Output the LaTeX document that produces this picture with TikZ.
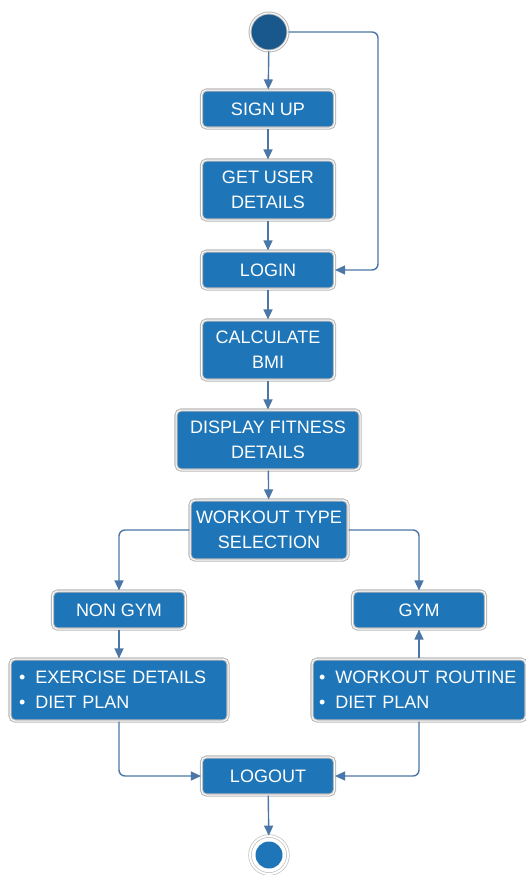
\documentclass[tikz,border=0pt]{standalone}
\usepackage{fontspec}
\setmainfont{Liberation Sans}
\usetikzlibrary{arrows.meta}

\definecolor{boxblue}{RGB}{30,117,183}
\definecolor{lineblue}{RGB}{74,118,168}
\definecolor{startblue}{RGB}{24,88,140}

\tikzset{
  state/.style={draw=gray!55, line width=1.1pt, double=white, double distance=1pt,
    fill=boxblue, rounded corners=5pt, text=white, inner sep=0pt,
    font=\fontsize{18}{25}\selectfont, align=center},
  smallstate/.style={state, minimum width=133pt, minimum height=38pt},
  bigstate/.style={state, minimum height=60pt},
  liststate/.style={state, minimum height=62pt, text width=200pt, align=left},
  flow/.style={draw=lineblue, line width=1.4pt, -{Triangle[length=10pt,width=9pt]}}
}

\newcommand{\itm}{\textbullet\hspace{10pt}}

\begin{document}
\begin{tikzpicture}[x=1pt,y=-1pt]
  \useasboundingbox (0,0) rectangle (525,875);

  % start and end
  \node[circle, fill=startblue, draw=gray!55, line width=1pt, double=white,
        double distance=1pt, minimum size=38pt] (start) at (269,32) {};
  \node[circle, draw=gray!50, line width=0.7pt, double=white,
        double distance=2pt, minimum size=38pt] (end) at (269,855) {};
  \node[circle, fill=boxblue, minimum size=27pt, inner sep=0pt] (endin) at (end) {};

  % states
  \node[smallstate] (signup) at (268,109) {SIGN UP};
  \node[bigstate, minimum width=133pt] (details) at (268,190) {GET USER\\DETAILS};
  \node[smallstate] (login) at (268,270) {LOGIN};
  \node[bigstate, minimum width=133pt] (bmi) at (268,350) {CALCULATE\\BMI};
  \node[bigstate, minimum width=184pt] (fitness) at (268,440) {DISPLAY FITNESS\\DETAILS};
  \node[bigstate, minimum width=158pt] (select) at (269,530) {WORKOUT TYPE\\SELECTION};
  \node[smallstate] (nongym) at (119,610) {NON GYM};
  \node[smallstate] (gym) at (419,610) {GYM};
  \node[liststate, minimum width=218pt] (exercise) at (119,690)
        {\itm EXERCISE DETAILS\\\itm DIET PLAN};
  \node[liststate, minimum width=214pt] (routine) at (419,690)
        {\itm WORKOUT ROUTINE\\\itm DIET PLAN};
  \node[smallstate] (logout) at (268,776) {LOGOUT};

  \coordinate (loopx) at (378,0);

  % connectors
  \draw[flow] (start) -- (signup);
  \draw[flow, rounded corners=6pt] (start) -- (start -| loopx) -- (loopx |- login) -- (login);
  \draw[flow] (signup) -- (details);
  \draw[flow] (details) -- (login);
  \draw[flow] (login) -- (bmi);
  \draw[flow] (bmi) -- (fitness);
  \draw[flow] (fitness) -- (select);
  \draw[flow, rounded corners=6pt] (select.west) -| (nongym.north);
  \draw[flow, rounded corners=6pt] (select.east) -| (gym.north);
  \draw[flow] (nongym) -- (exercise);
  \draw[flow] (routine) -- (gym);
  \draw[flow, rounded corners=6pt] (exercise.south) |- (logout.west);
  \draw[flow, rounded corners=6pt] (routine.south) |- (logout.east);
  \draw[flow] (logout) -- (end);
\end{tikzpicture}
\end{document}
